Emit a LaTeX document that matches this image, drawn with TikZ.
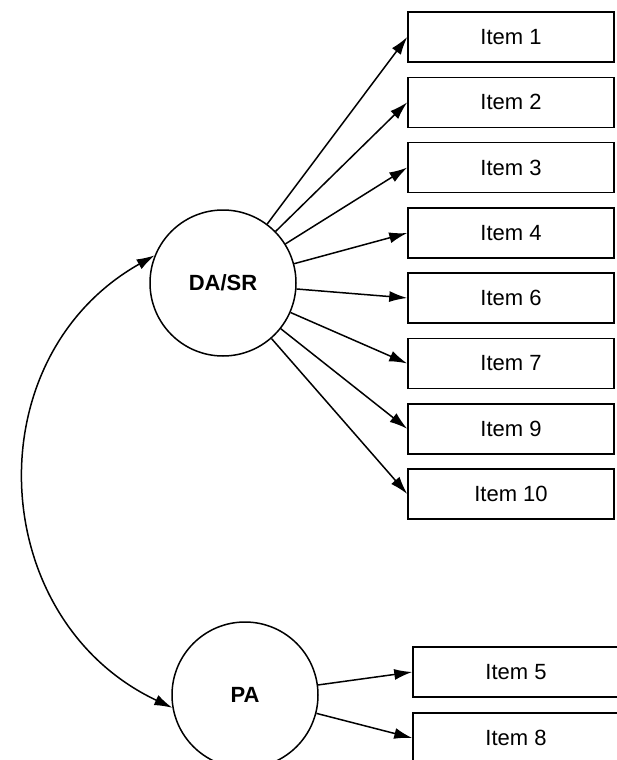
\documentclass[tikz,border=0pt]{standalone}
\usepackage{fontspec}
\setmainfont{Liberation Sans}
\usetikzlibrary{arrows.meta}
\begin{document}
\begin{tikzpicture}[x=1pt,y=-1pt,
  itembox/.style={draw,line width=1.5pt,minimum width=206pt,minimum height=50pt,inner sep=0pt,font=\fontsize{22}{26}\selectfont},
  latent/.style={draw,circle,line width=1.5pt,minimum size=146pt,inner sep=0pt,font=\fontsize{22}{26}\selectfont\bfseries},
  load/.style={line width=1.5pt,-{Latex[length=18pt,width=11pt]}},
  cov/.style={line width=1.5pt,{Latex[length=18pt,width=11pt]}-{Latex[length=18pt,width=11pt]}}]
\useasboundingbox (0,0) rectangle (616,760);
\node[latent] (da) at (223,283) {DA/SR};
\node[latent] (pa) at (245,695) {PA};
\node[itembox] (i1) at (511,37) {Item 1};
\node[itembox] (i2) at (511,102.3) {Item 2};
\node[itembox] (i3) at (511,167.6) {Item 3};
\node[itembox] (i4) at (511,233) {Item 4};
\node[itembox] (i6) at (511,298) {Item 6};
\node[itembox] (i7) at (511,363.5) {Item 7};
\node[itembox] (i9) at (511,428.8) {Item 9};
\node[itembox] (i10) at (511,494) {Item 10};
\node[itembox] (i5) at (516,672) {Item 5};
\node[itembox] (i8) at (516,738) {Item 8};
\foreach \t in {i1,i2,i3,i4,i6,i7,i9,i10} {\draw[load] (da) -- (\t.west);}
\foreach \t in {i5,i8} {\draw[load] (pa) -- (\t.west);}
\draw[cov] (da.158) .. controls (-27,358) and (-14,620) .. (pa.190);
\end{tikzpicture}
\end{document}
